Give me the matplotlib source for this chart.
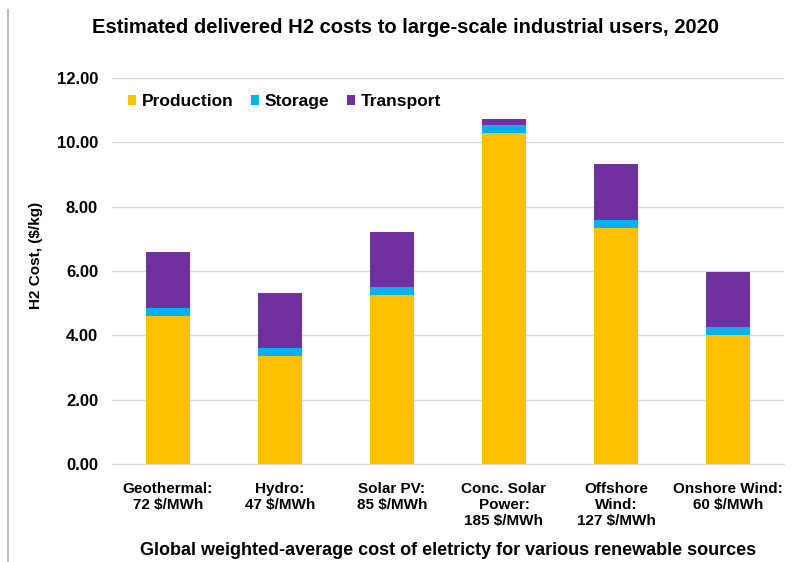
import numpy as np
import matplotlib.pyplot as plt
from matplotlib.lines import Line2D

# datos
fuentes = ['Geothermal:\n72 $/MWh', 'Hydro:\n47 $/MWh', 'Solar PV:\n85 $/MWh',
           'Conc. Solar\nPower:\n185 $/MWh', 'Offshore\nWind:\n127 $/MWh',
           'Onshore Wind:\n60 $/MWh']
produccion = [4.60, 3.35, 5.25, 10.28, 7.33, 4.00]
almacenamiento = [0.25, 0.25, 0.25, 0.25, 0.27, 0.25]
transporte = [1.73, 1.71, 1.70, 0.18, 1.72, 1.71]

plt.rcParams['font.family'] = ['Liberation Sans', 'DejaVu Sans']

fig = plt.figure(figsize=(8.12, 5.62), dpi=100)
ax = fig.add_axes([112 / 812, 98 / 562, 672 / 812, 386 / 562])

x = np.arange(len(fuentes))
p = np.array(produccion)
s = np.array(almacenamiento)
t = np.array(transporte)
w = 0.4
ax.bar(x, p, w, color='#FFC000', label='Production', zorder=3)
ax.bar(x, s, w, bottom=p, color='#00B0F0', label='Storage', zorder=3)
ax.bar(x, t, w, bottom=p + s, color='#7030A0', label='Transport', zorder=3)

ax.set_xlim(-0.5, 5.5)
ax.set_ylim(0, 12)
ax.set_yticks(np.arange(0, 12.1, 2))
ax.set_yticklabels(['%.2f' % v for v in np.arange(0, 12.1, 2)],
                   fontweight='bold', fontsize=12)
ax.set_xticks(x)
ax.set_xticklabels(fuentes, fontweight='bold', fontsize=11)
ax.tick_params(axis='y', length=0, pad=10)
ax.tick_params(axis='x', length=0, pad=13)
ax.grid(axis='y', color='#d9d9d9', linewidth=1, zorder=0)
for sp in ['top', 'right', 'left']:
    ax.spines[sp].set_visible(False)
ax.spines['bottom'].set_color('#d9d9d9')

ax.set_ylabel('H2 Cost, ($/kg)', fontweight='bold', fontsize=11)
ax.yaxis.set_label_coords(-0.103, 0.54)
ax.set_xlabel('Global weighted-average cost of eletricty for various renewable sources',
              fontweight='bold', fontsize=13, labelpad=10)
fig.suptitle('Estimated delivered H2 costs to large-scale industrial users, 2020',
             fontweight='bold', fontsize=14.5, y=0.968)

ax.legend(loc='upper left', bbox_to_anchor=(0.0, 0.998), ncol=3, frameon=False,
          prop={'weight': 'bold', 'size': 12.5}, handlelength=0.5, handleheight=0.5,
          handletextpad=0.3, columnspacing=1.0)

# borde izquierdo del marco
fig.add_artist(Line2D([8 / 812, 8 / 812], [0, 1 - 10 / 562], color='#bfbfbf',
                      linewidth=1.5, transform=fig.transFigure))

plt.savefig('out.png', dpi=100)
